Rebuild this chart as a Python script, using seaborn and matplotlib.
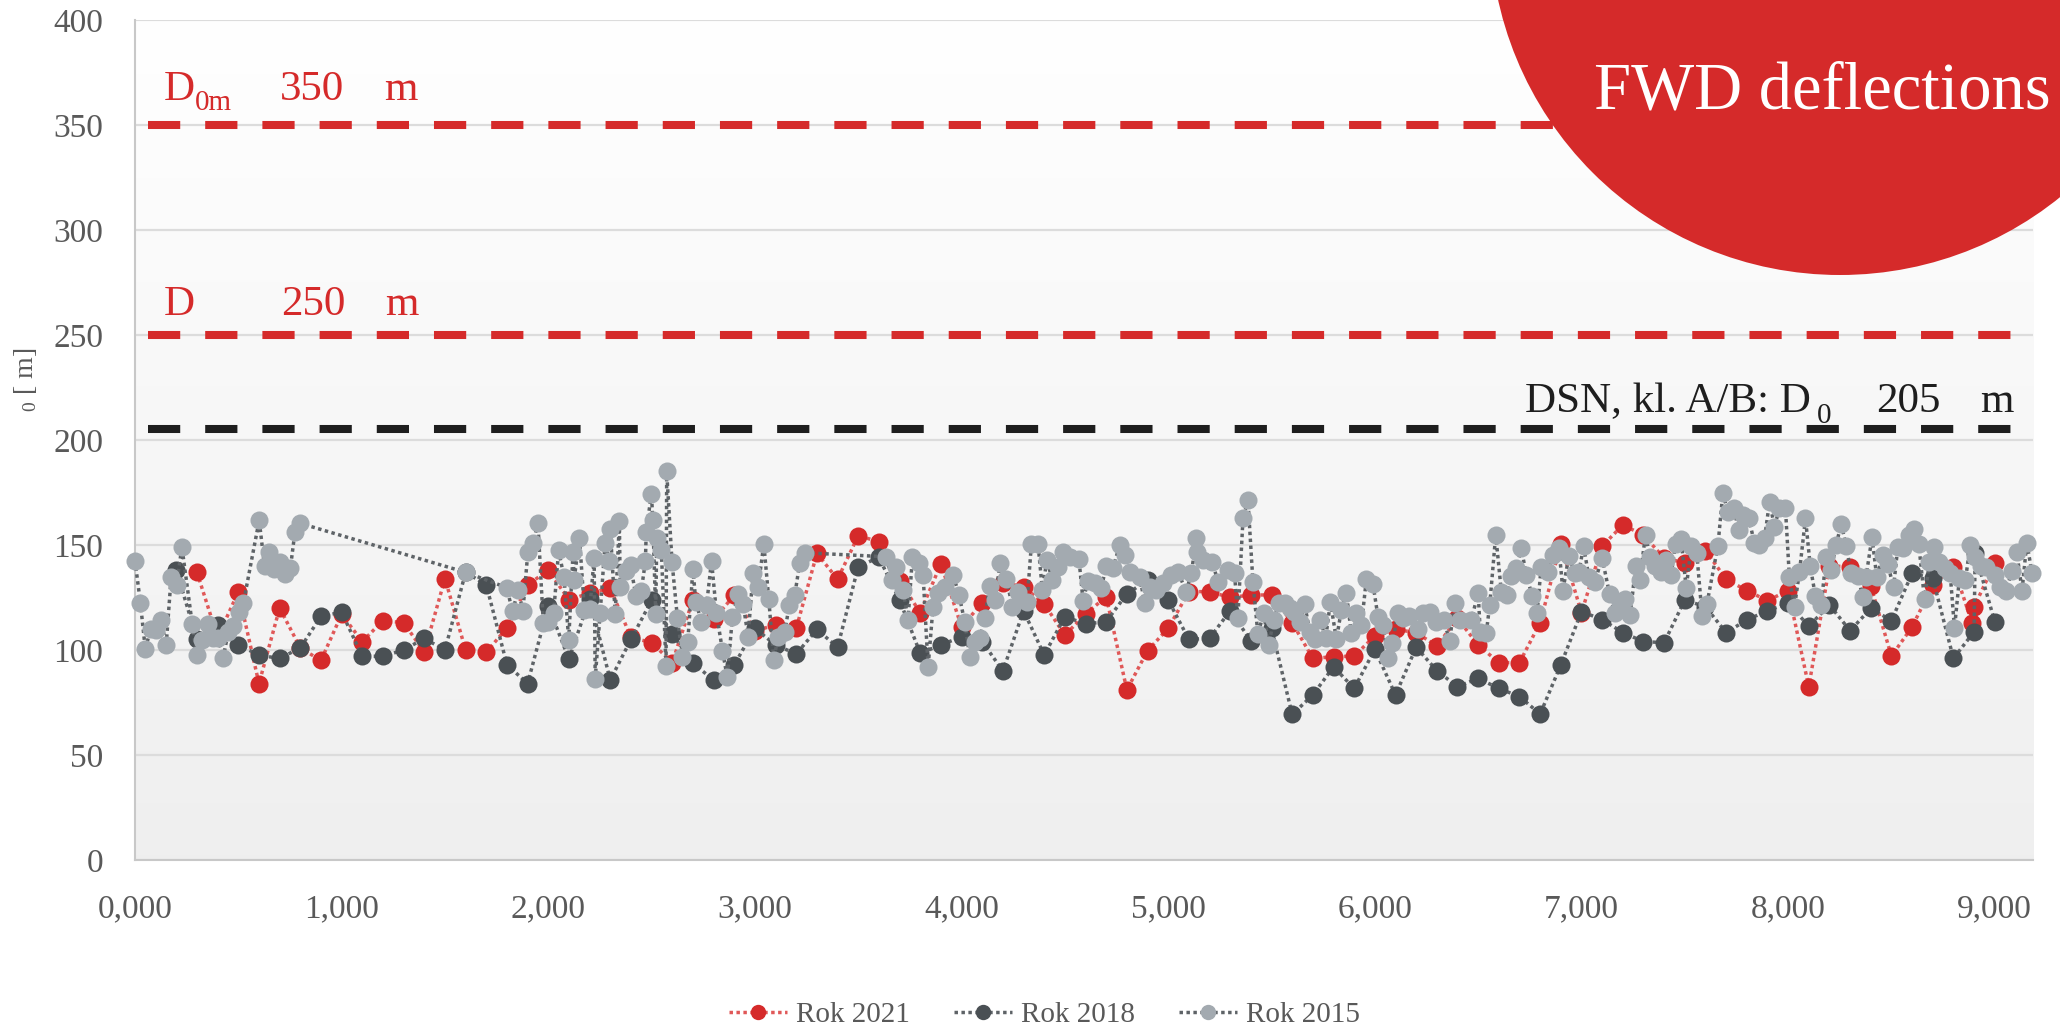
import numpy as np
import pandas as pd
import matplotlib
matplotlib.use("Agg")
import matplotlib.pyplot as plt
import seaborn as sns
from matplotlib.patches import Circle

plt.rcParams["font.family"] = ["Liberation Serif", "DejaVu Serif"]
plt.rcParams["mathtext.fontset"] = "custom"
plt.rcParams["mathtext.rm"] = "Liberation Serif"
plt.rcParams["mathtext.it"] = "Liberation Serif"

# ---------------- data: FWD deflection D0 [um] along chainage [m] ----------------
km_2021 = [300, 400, 500, 600, 700, 800, 900, 1000, 1100, 1200, 1300, 1400, 1500,
           1600, 1700, 1800, 1900, 2000, 2100, 2200, 2300, 2400, 2500, 2600, 2700,
           2800, 2900, 3000, 3100, 3200, 3300, 3400, 3500, 3600, 3700, 3800, 3900,
           4000, 4100, 4200, 4300, 4400, 4500, 4600, 4700, 4800, 4900, 5000, 5100,
           5200, 5300, 5400, 5500, 5600, 5700, 5800, 5900, 6000, 6100, 6200, 6300,
           6400, 6500, 6600, 6700, 6800, 6900, 7000, 7100, 7200, 7300, 7400, 7500,
           7600, 7700, 7800, 7900, 8000, 8100, 8200, 8300, 8400, 8500, 8600, 8700,
           8800, 8890, 8900, 9000]
d0_2021 = [137, 106, 127.7, 84, 120, 101, 95, 117, 104, 114, 113, 99, 134,
           100, 99, 110.5, 131, 138, 124, 127, 129.5, 106, 103.5, 94, 124,
           114.6, 126, 109, 112, 110.3, 146, 133.7, 154.4, 151.6, 133, 117.8, 141,
           111, 122.5, 132, 130.2, 121.9, 107.1, 117.1, 125.4, 81, 99.7, 110.3, 127.8,
           127.8, 125, 126.2, 126.2, 113, 96, 96.8, 97.1, 106.7, 109.8, 108.3, 101.9,
           115, 102.4, 94, 94, 113, 150.5, 117.8, 149.5, 159.5, 154.8, 143.7, 141.6,
           147.3, 133.7, 128.3, 123.5, 128.3, 82.5, 140, 139.7, 130.5, 97.1, 111, 131,
           139.7, 112.9, 120.6, 141.3]

km_2018 = [200, 300, 400, 500, 600, 700, 800, 900, 1000, 1100, 1200, 1300, 1400,
           1500, 1600, 1700, 1800, 1900, 2000, 2100, 2200, 2300, 2400, 2500, 2600,
           2700, 2800, 2900, 3000, 3100, 3200, 3300, 3400, 3500, 3600, 3700, 3800,
           3900, 4000, 4100, 4200, 4300, 4400, 4500, 4600, 4700, 4800, 4900, 5000,
           5100, 5200, 5300, 5400, 5500, 5600, 5700, 5800, 5900, 6000, 6100, 6200,
           6300, 6400, 6500, 6600, 6700, 6800, 6900, 7000, 7100, 7200, 7300, 7400,
           7500, 7600, 7700, 7800, 7900, 8000, 8100, 8200, 8300, 8400, 8500, 8600,
           8700, 8800, 8900, 8905, 9000]
d0_2018 = [138, 105, 112, 102.5, 97.5, 96, 101, 116, 118, 97, 97, 100, 105.5,
           100, 137, 131, 93, 84, 121, 95.6, 124.5, 85.7, 105, 123.6, 107.7,
           93.7, 85.7, 92.9, 110.3, 102.4, 98.1, 109.8, 101.3, 139.7, 144.1, 123.8, 98.4,
           102.4, 106.3, 104, 90, 118.7, 97.6, 115.9, 112.4, 113.5, 126.7, 133.3, 123.8,
           105, 105.6, 118.7, 104.4, 110.3, 69.3, 78.6, 92, 81.7, 100.3, 78.6, 101.3,
           90.2, 82.5, 86.5, 81.7, 77.8, 69.5, 92.9, 118.3, 114.5, 108.3, 104, 103.5,
           123.8, 120.6, 108.3, 114.3, 118.7, 122.2, 111.4, 121.4, 109.2, 119.8, 114, 136.5,
           134.1, 96, 108.7, 146, 113.5]

km_2015 = [0, 26, 50, 76, 102, 125, 151, 175, 201, 227, 277, 298, 326, 352, 378,
           402, 426, 452, 476, 502, 525, 601, 627, 649, 675, 700, 726, 752, 774, 800,
           1600, 1799, 1827, 1855, 1877, 1901, 1926, 1950, 1976, 2000, 2026, 2050,
           2076, 2099, 2120, 2125, 2151, 2175, 2201, 2222, 2227, 2251, 2275, 2296,
           2300, 2324, 2344, 2348, 2374, 2398, 2424, 2450, 2470, 2474, 2499, 2506,
           2520, 2525, 2547, 2570, 2573, 2599, 2625, 2649, 2675, 2700, 2714, 2741,
           2766, 2790, 2814, 2843, 2866, 2891, 2919, 2943, 2967, 2991, 3016, 3043,
           3067, 3091, 3112, 3145, 3166, 3193, 3217, 3241, 3636, 3665, 3685, 3717,
           3741, 3762, 3794, 3814, 3838, 3862, 3886, 3919, 3959, 3988, 4015, 4040,
           4064, 4088, 4112, 4136, 4160, 4188, 4217, 4246, 4273, 4317, 4338, 4370,
           4391, 4413, 4439, 4467, 4491, 4523, 4568, 4588, 4612, 4644, 4676, 4700,
           4733, 4765, 4789, 4813, 4862, 4886, 4910, 4942, 4975, 5015, 5047, 5087,
           5112, 5136, 5140, 5168, 5213, 5241, 5289, 5321, 5337, 5362, 5386, 5410,
           5434, 5462, 5487, 5510, 5536, 5563, 5588, 5610, 5636, 5660, 5685, 5709,
           5736, 5762, 5785, 5814, 5838, 5862, 5886, 5910, 5935, 5959, 5991, 6015,
           6040, 6064, 6085, 6112, 6136, 6165, 6209, 6233, 6265, 6298, 6333, 6362,
           6386, 6410, 6467, 6500, 6510, 6539, 6556, 6585, 6612, 6639, 6660, 6685,
           6709, 6733, 6762, 6785, 6805, 6838, 6862, 6891, 6910, 6939, 6967, 6988,
           7010, 7036, 7064, 7100, 7136, 7160, 7187, 7213, 7236, 7262, 7281, 7310,
           7332, 7358, 7386, 7410, 7434, 7455, 7482, 7507, 7531, 7558, 7584, 7607,
           7660, 7684, 7708, 7736, 7761, 7781, 7810, 7837, 7861, 7886, 7910, 7934,
           7958, 7987, 8006, 8031, 8055, 8084, 8107, 8132, 8160, 8184, 8208, 8232,
           8257, 8281, 8305, 8337, 8361, 8377, 8406, 8429, 8458, 8482, 8510, 8531,
           8558, 8584, 8607, 8632, 8660, 8684, 8708, 8732, 8761, 8784, 8805, 8829,
           8858, 8881, 8906, 8934, 8958, 9003, 9026, 9055, 9084, 9106, 9132, 9155,
           9180]
d0_2015 = [142.6, 122.6, 100.3, 110.2, 109.6, 114.3, 102.5, 134.8, 131, 149.1, 112.4,
           97.5, 104.9, 112.4, 105.9, 105.9, 96.2, 108.7, 111.5, 118, 122.6, 161.8,
           139.8, 146.9, 138.5, 141.7, 136.1, 139, 156.2, 160.3,
           137, 129.7, 118.4, 128.8, 118.5, 146.5, 151, 160.3, 112.8, 113.3, 117.6, 147.4,
           134.8, 104.8, 146.9, 133.5, 153.4, 118.9, 119.5, 144, 86.3, 117.4, 151, 142.2,
           157.7, 117, 161.4, 130, 137.6, 140.4, 125.8, 128.2, 142.2, 156.2, 174.5, 161.8,
           117, 153.4, 147.8, 92.5, 185, 141.8, 115.2, 96.6, 104, 138.5, 123, 113.5,
           121.4, 142.5, 117.5, 99.7, 87, 115.6, 126.7, 122, 106.3, 136.8, 130.2, 150.5,
           124.3, 95.2, 106.3, 108.7, 121.4, 126.2, 141.6, 146.3, 144.4, 133.3, 139.7, 128.6,
           114.3, 144.1, 141.6, 135.7, 91.7, 120.6, 127, 130.2, 135.7, 126.2, 113.5, 96.5,
           104, 105.6, 115, 130.5, 123.8, 141.6, 133.7, 120.6, 127.8, 123, 150.5, 150.5,
           128.6, 142.9, 133.3, 139.7, 146.8, 144.4, 143.2, 123.5, 133, 132, 129.4, 140,
           138.9, 150, 145.2, 137.3, 134.9, 122.5, 130.2, 128.6, 131.7, 135.7, 137.3, 127.8,
           136.5, 153.2, 146.8, 142.9, 142, 132.5, 138, 136.5, 115, 162.7, 171.4, 132.5,
           107.6, 117.5, 102.4, 114.3, 122.2, 122.5, 120, 118, 113.5, 121.9, 108.7, 105,
           114.3, 105.6, 123, 105, 119, 127.3, 108, 117.5, 111.9, 133.7, 131.4, 115.9,
           111.9, 96, 103.2, 117.8, 115, 116.2, 109.8, 117.8, 118.3, 113.5, 114.3, 104.4,
           122.5, 114.3, 114.3, 127.3, 108.7, 108, 121.4, 154.8, 127.8, 126.2, 135.2, 138.9,
           148.4, 135.7, 125.7, 117.5, 139.7, 137.3, 145.2, 148.4, 128.3, 144.8, 136.5, 137.3,
           149.5, 134.6, 132.5, 143.7, 126.7, 117.8, 123, 124.1, 116.7, 140, 133.3, 154.8,
           144.1, 140, 137.3, 142.9, 135.7, 150.5, 152.7, 129.4, 149.5, 146, 116.2, 121.9,
           149.5, 174.6, 165.9, 167.5, 157.1, 164.3, 162.7, 150.8, 150, 153.2, 170.6, 158.7,
           167.5, 167.5, 134.9, 120.6, 137.3, 162.7, 140, 125.7, 121.4, 144.1, 138.1, 150,
           160, 149.5, 136.5, 135.2, 125.4, 134.9, 153.7, 134.6, 145.2, 141, 129.8, 149.2,
           148.4, 154.8, 157.5, 150.5, 124.1, 142, 149.2, 142, 138.9, 136.8, 110.3, 134.1,
           133.3, 150, 144.1, 140, 139.4, 135.7, 130.2, 128.3, 137.8, 146.8, 128.3, 151.1,
           136.8]

series_labels = ["Rok 2021", "Rok 2018", "Rok 2015"]
limit_values = [350, 250, 205]
y_ticks = [0, 50, 100, 150, 200, 250, 300, 350, 400]
x_ticks = [0, 1000, 2000, 3000, 4000, 5000, 6000, 7000, 8000, 9000]
x_tick_labels = ["0,000", "1,000", "2,000", "3,000", "4,000",
                 "5,000", "6,000", "7,000", "8,000", "9,000"]

# ---------------- styling ----------------
RED = "#D52A2A"
RED_LINE = "#E05858"
DARK = "#4A5054"
LIGHT = "#A3AAB0"
GREY_LINE = "#5E6367"
TEXT_GREY = "#595959"

fig = plt.figure(figsize=(20.6, 10.31), dpi=100)
ax = fig.add_axes([0.06553, 0.16586, 0.92136, 0.81474])

XMAX = 9185
# soft vertical gradient behind the plot
grad = np.linspace(1.0, 0.937, 256)[:, None, None] * np.ones((1, 1, 3))
ax.imshow(grad, extent=(0, XMAX, 0, 400), aspect="auto", zorder=0, interpolation="bilinear")

dot = (0, (1, 1))
common = dict(sort=False, estimator=None, errorbar=None, ax=ax, linestyle=dot,
              linewidth=2.5, marker="o", markersize=13, markeredgewidth=0,
              clip_on=False)

sns.lineplot(data=pd.DataFrame({"km": km_2021, "d0": d0_2021}), x="km", y="d0",
             color=RED_LINE, markerfacecolor=RED, markeredgecolor=RED,
             label=series_labels[0], zorder=3, **common)
sns.lineplot(data=pd.DataFrame({"km": km_2018, "d0": d0_2018}), x="km", y="d0",
             color=GREY_LINE, markerfacecolor=DARK, markeredgecolor=DARK,
             label=series_labels[1], zorder=4, **common)
sns.lineplot(data=pd.DataFrame({"km": km_2015, "d0": d0_2015}), x="km", y="d0",
             color=GREY_LINE, markerfacecolor=LIGHT, markeredgecolor=LIGHT,
             label=series_labels[2], zorder=5, **common)

# limit lines
for val, col in zip(limit_values, [RED, RED, "#1E1E1E"]):
    ax.axhline(val, xmin=0.0068, xmax=0.99, color=col, linewidth=5.8,
               dashes=(4, 3.1), zorder=2)

ax.set_xlim(0, XMAX)
ax.set_ylim(0, 400)
ax.set_yticks(y_ticks)
ax.set_xticks(x_ticks)
ax.set_xticklabels(x_tick_labels)
ax.set_xlabel("")
ax.set_ylabel("")
ax.grid(axis="y", color="#dcdcdc", linewidth=1.6)
ax.grid(axis="x", visible=False)
ax.set_axisbelow(True)
for side in ["top", "right"]:
    ax.spines[side].set_visible(False)
for side in ["left", "bottom"]:
    ax.spines[side].set_color("#c8c8c8")
    ax.spines[side].set_linewidth(1.5)
ax.tick_params(axis="both", length=0, labelsize=24, labelcolor=TEXT_GREY)
ax.tick_params(axis="y", pad=23)
ax.tick_params(axis="x", pad=24)

handles, labels = ax.get_legend_handles_labels()
if ax.get_legend() is not None:
    ax.get_legend().remove()
fig.legend(handles, labels, loc="center", bbox_to_anchor=(0.507, 0.0155), ncol=3,
           frameon=False, fontsize=21, handlelength=2.0, handletextpad=0.3,
           columnspacing=1.5, markerscale=0.85, labelcolor=TEXT_GREY)

# overlay in pixel coordinates for the annotations and the title badge
ov = fig.add_axes([0, 0, 1, 1])
ov.set_xlim(0, 2060)
ov.set_ylim(1031, 0)
ov.axis("off")
ov.patch.set_alpha(0)

ov.add_patch(Circle((1840, -75), 350, color=RED, zorder=1, linewidth=0))
ov.text(1594, 108, "FWD deflections", color="white", fontsize=48,
        ha="left", va="baseline", zorder=2)

big = 31
small = 21
def piece(x, y, s, size, color):
    ov.text(x, y, s, fontsize=size, color=color, ha="left", va="baseline")

piece(164, 100, "D", big, RED)
piece(195, 110, "0m", small, RED)
piece(280, 100, str(limit_values[0]), big, RED)
piece(384, 100, "m", big, RED)

piece(164, 315, "D", big, RED)
piece(281, 315, str(limit_values[1]), big, RED)
piece(385, 315, "m", big, RED)

piece(1525, 412, "DSN, kl. A/B: D", big, "#1E1E1E")
piece(1817, 423, "0", small, "#1E1E1E")
piece(1876, 412, str(limit_values[2]), big, "#1E1E1E")
piece(1980, 412, "m", big, "#1E1E1E")

ov.text(33, 412, r"$_0$ [ m]", rotation=90, rotation_mode="anchor",
        ha="left", va="baseline", fontsize=20, color=TEXT_GREY)

fig.savefig("out.png", dpi=100)
